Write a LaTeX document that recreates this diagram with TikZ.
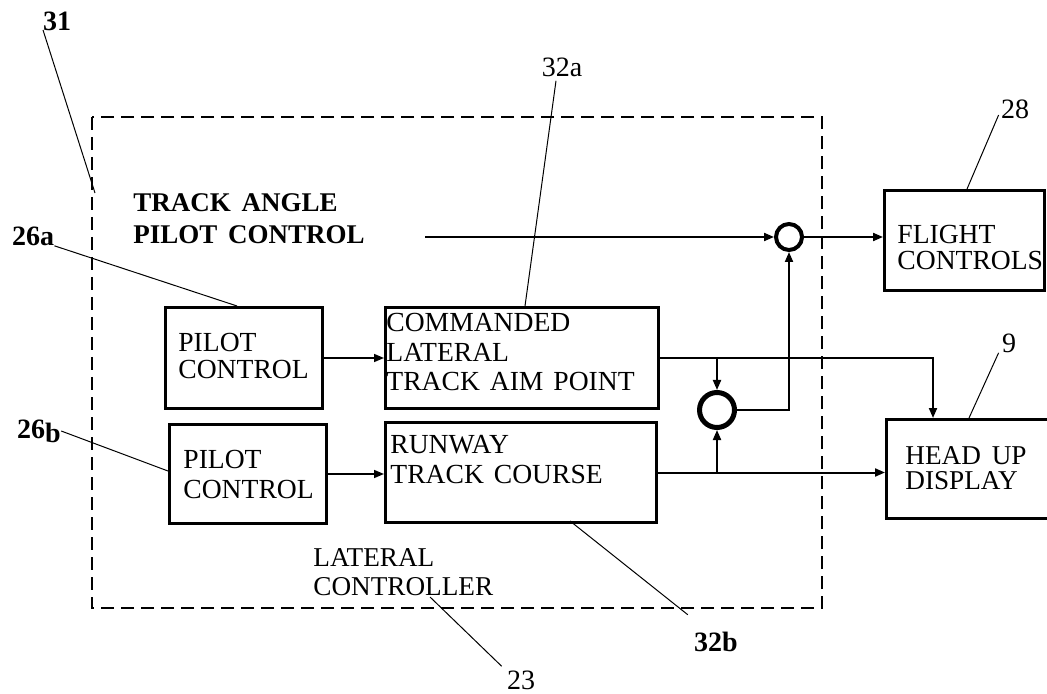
\documentclass[tikz,border=0pt]{standalone}
\usepackage{fontspec}
\setmainfont{Liberation Serif}
\usetikzlibrary{arrows.meta}
\newcommand\wordsp[1]{\spaceskip=#1\relax}
\tikzset{
  box/.style={draw, line width=1.5pt, rectangle, inner sep=0pt, anchor=north west},
  txt/.style={inner sep=0pt, anchor=north west, align=left, font=\fontsize{13.8}{15}\selectfont\wordsp{0.36em}},
  num/.style={inner sep=0pt, font=\fontsize{14}{15}\selectfont},
  lead/.style={line width=0.5pt},
  conn/.style={line width=1pt, -{Triangle[length=5pt,width=4pt]}},
  sumj/.style={draw, circle, inner sep=0pt},
  encl/.style={line width=1pt, dash pattern=on 6.5pt off 3.5pt}
}
\begin{document}
\begin{tikzpicture}[x=0.5pt,y=-0.5pt]
\useasboundingbox (0,0) rectangle (1047,694);
% enclosure
\draw[encl] (92,117) rectangle (822,608);
% boxes
\node[box, minimum width=78.5pt, minimum height=50.5pt] (p1) at (164,306) {};
\node[box, minimum width=78.5pt, minimum height=49.5pt] (p2) at (168,423) {};
\node[box, minimum width=136.5pt, minimum height=50.5pt] (cmd) at (384,306) {};
\node[box, minimum width=135.5pt, minimum height=50pt] (rwy) at (384,421) {};
\node[box, minimum width=80pt, minimum height=50pt] (fc) at (883,189) {};
\node[box, minimum width=85pt, minimum height=49.5pt] (hud) at (885,418) {};
% texts
\node[txt, font=\fontsize{13.5}{16}\selectfont\bfseries\wordsp{0.4em}] (tap) at (133,193) {TRACK ANGLE\\PILOT CONTROL};
\node[txt, font=\fontsize{13.8}{13.6}\selectfont] (p1t) at (178,333) {PILOT\\CONTROL};
\node[txt] (p2t) at (183,450) {PILOT\\CONTROL};
\node[txt, font=\fontsize{13.8}{14.8}\selectfont\wordsp{0.36em}] (cmdt) at (386,313) {COMMANDED\\LATERAL\\TRACK AIM POINT};
\node[txt] (rwyt) at (390,435) {RUNWAY\\TRACK COURSE};
\node[txt, font=\fontsize{13.8}{13}\selectfont] (fct) at (897,225) {FLIGHT\\CONTROLS};
\node[txt, font=\fontsize{13.6}{12.4}\selectfont\wordsp{0.4em}] (hudt) at (905,446) {HEAD UP\\DISPLAY};
\node[txt, font=\fontsize{13.6}{14.5}\selectfont] (latc) at (313,548) {LATERAL\\CONTROLLER};
% summing junctions
\node[sumj, line width=2pt, minimum size=13pt] (s1) at (789,237) {};
\node[sumj, line width=2.5pt, minimum size=17.5pt] (s2) at (717,410) {};
% reference numerals
\node[num, font=\fontsize{14}{15}\selectfont\bfseries] (n31) at (57,21) {31};
\node[num, font=\fontsize{14}{15}\selectfont\bfseries] (n26a) at (33,236) {26a};
\node[num, font=\fontsize{14}{15}\selectfont\bfseries] (n26b) at (39,431) {26\raisebox{-2pt}{b}};
\node[num] (n32a) at (562,67) {32a};
\node[num] (n28) at (1015,109) {28};
\node[num] (n9) at (1009,343) {9};
\node[num] (n23) at (521,680) {23};
\node[num, font=\fontsize{14}{15}\selectfont\bfseries] (n32b) at (716,642) {32b};
% leader end points
\coordinate (c31) at (95,193);
\coordinate (c26a) at (237,306);
\coordinate (c26b) at (168,471);
\coordinate (c32a) at (525,306);
\coordinate (c28) at (967,189);
\coordinate (c9) at (969,418);
\coordinate (c23) at (430,597);
\coordinate (c32b) at (570,521);
\draw[lead] (43,30) coordinate (l31) -- (c31);
\draw[lead] (n26a.south east) -- (c26a);
\draw[lead] (n26b.east) -- (c26b);
\draw[lead] (n32a.south) ++(-6,4) coordinate (l32a) -- (c32a);
\draw[lead] (n28.west) ++(-2,6) coordinate (l28) -- (c28);
\draw[lead] (n9.south west) ++(-3,0) coordinate (l9) -- (c9);
\draw[lead] (n23.north west) ++(-5,-4) coordinate (l23) -- (c23);
\draw[lead] (n32b.north west) ++(-6,-17) coordinate (l32b) -- (c32b);
% connectors
\coordinate (tin) at (425,237);
\draw[conn] (tin) -- (s1.west);
\draw[conn] (s1.east) -- (s1.east -| fc.west);
\draw[conn, line width=0.8pt] (p1.east) -- (p1.east -| cmd.west);
\draw[conn, line width=0.8pt] (p2.east) -- (p2.east -| rwy.west);
\coordinate (h1) at (933,418);
\draw[conn] (cmd.east) -| (h1);
\draw[conn] (s2.north |- cmd.east) -- (s2.north);
\draw[conn] (rwy.east) -- (rwy.east -| hud.west);
\draw[conn] (s2.south |- rwy.east) -- (s2.south);
\draw[conn] (s2.east) -| (s1.south);
\end{tikzpicture}
\end{document}
